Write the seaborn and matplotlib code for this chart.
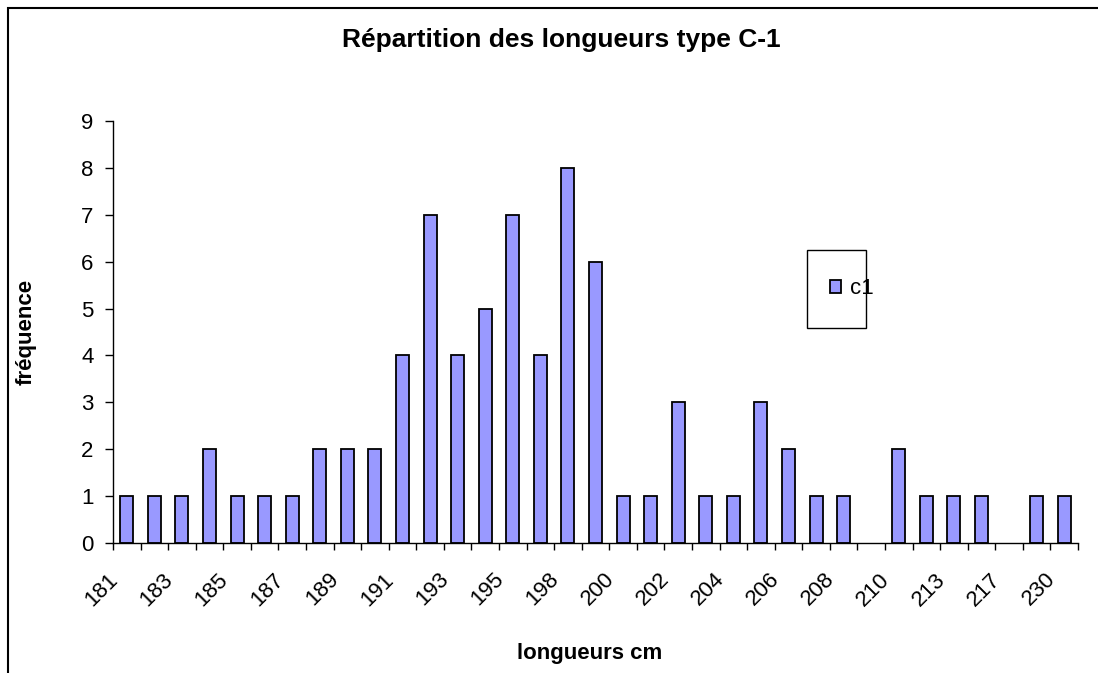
import numpy as np
import pandas as pd
import matplotlib
matplotlib.use("Agg")
import matplotlib.pyplot as plt
import matplotlib.transforms as mtransforms
from matplotlib.patches import Rectangle
import seaborn as sns

# lengths (cm) and how many of each
longueurs = ["181", "182", "183", "184", "185", "186", "187", "188", "189", "190",
             "191", "192", "193", "194", "195", "196", "198", "199", "200", "201",
             "202", "203", "204", "205", "206", "207", "208", "209", "210", "212",
             "213", "215", "217", "220", "230"]
frequence = [1, 1, 1, 2, 1, 1, 1, 2, 2, 2,
             4, 7, 4, 5, 7, 4, 8, 6, 1, 1,
             3, 1, 1, 3, 2, 1, 1, 0, 2, 1,
             1, 1, 0, 1, 1]
serie = "c1"
titre = "Répartition des longueurs type C-1"

df = pd.DataFrame({"longueur": longueurs, "freq": frequence})

sns.set_style("white")
plt.rcParams["font.family"] = ["Liberation Sans", "DejaVu Sans"]
plt.rcParams["text.color"] = "black"
plt.rcParams["xtick.color"] = "black"
plt.rcParams["ytick.color"] = "black"
plt.rcParams["axes.labelcolor"] = "black"

W, H = 1098, 673
fig = plt.figure(figsize=(W / 100, H / 100), dpi=100)
ax = fig.add_axes([113 / W, 1 - 543 / H, (1078 - 113) / W, (543 - 121) / H])

sns.barplot(data=df, x="longueur", y="freq", color="#9999FF", saturation=1,
            edgecolor="black", linewidth=1.3, width=0.47, label=serie, ax=ax)
# empty categories: no visible bar at all
for p in ax.patches:
    if p.get_height() == 0:
        p.set_linewidth(0)

n = len(longueurs)
ax.set_xlim(-0.5, n - 0.5)
ax.set_ylim(0, 9)
ax.set_yticks(range(10))
ax.tick_params(axis="y", direction="out", length=6, width=1, color="black",
               labelcolor="black", labelsize=16, pad=8, left=True)

# tick marks on category borders, labels on every other category
ax.set_xticks(np.arange(-0.5, n, 1))
ax.set_xticklabels([])
ax.tick_params(axis="x", which="major", direction="out", length=5, width=1,
               color="black", bottom=True)
ax.set_xticks(np.arange(0, n, 2), minor=True)
ax.set_xticklabels(longueurs[::2], minor=True, rotation=45, ha="right",
                   va="center", rotation_mode="anchor")
ax.tick_params(axis="x", which="minor", length=0, labelsize=16, pad=24,
               labelcolor="black")
shift = mtransforms.ScaledTranslation(-12 / 100, 0, fig.dpi_scale_trans)
for lab in ax.get_xticklabels(minor=True):
    lab.set_transform(lab.get_transform() + shift)

ax.set_xlabel("")
ax.set_ylabel("")
for s in ["top", "right"]:
    ax.spines[s].set_visible(False)
for s in ["left", "bottom"]:
    ax.spines[s].set_color("black")
    ax.spines[s].set_linewidth(1)

fig.text(561 / W, 1 - 40 / H, titre, ha="center", va="center",
         fontsize=19, fontweight="bold", color="black")
fig.text(590 / W, 1 - 654 / H, "longueurs cm", ha="center", va="center",
         fontsize=16, fontweight="bold", color="black")
fig.text(26 / W, 1 - 332 / H, "fréquence", ha="center", va="center",
         rotation=90, fontsize=16, fontweight="bold", color="black")

# legend box
leg = ax.legend(loc="center left", bbox_to_anchor=(819 / W, 1 - 289 / H),
                bbox_transform=fig.transFigure, frameon=False, fontsize=16,
                handlelength=0.5, handleheight=0.5, handletextpad=0.4,
                borderpad=0)
for t in leg.get_texts():
    t.set_color("black")
fig.patches.append(Rectangle((807 / W, 1 - 328 / H), 59 / W, 78 / H,
                             transform=fig.transFigure, fill=False,
                             edgecolor="black", linewidth=1))

# outer chart frame (cut off at right and bottom)
fig.patches.append(Rectangle((8 / W, -0.2), 1.2, 1.2 - 8 / H,
                             transform=fig.transFigure, fill=False,
                             edgecolor="black", linewidth=1.5, clip_on=False))

fig.savefig("out.png", dpi=100)
